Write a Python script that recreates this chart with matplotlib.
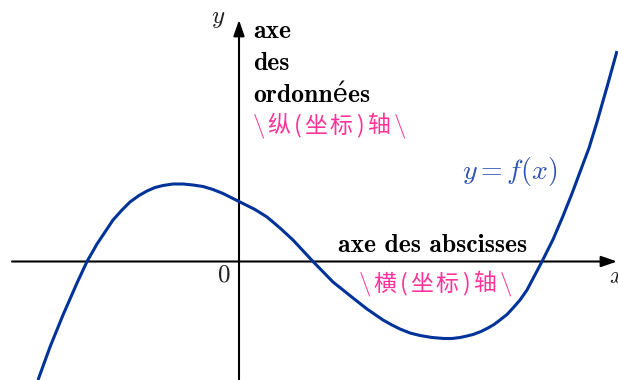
import matplotlib
matplotlib.use("Agg")
import matplotlib.pyplot as plt

plt.rcParams['mathtext.fontset'] = 'cm'

# Curve points (data units)
curve_x = [-4.02, -3.78, -3.52, -3.24, -3.04, -2.84, -2.52, -2.34, -2.18, -2.00,
           -1.84, -1.68, -1.52, -1.32, -1.12, -0.92, -0.72, -0.52, -0.32, 0.00,
           0.32, 0.56, 0.82, 1.08, 1.48, 1.88, 2.28, 2.56, 2.88, 3.06,
           3.22, 3.42, 3.62, 3.86, 4.10, 4.26, 4.42, 4.56, 4.68, 4.84,
           4.98, 5.10, 5.22, 5.36, 5.48, 5.62, 5.76, 6.06, 6.28, 6.48,
           6.66, 6.82, 7.00, 7.16, 7.36, 7.56]
curve_y = [-2.37, -1.71, -1.07, -0.43, 0.00, 0.35, 0.83, 1.03, 1.19, 1.32,
           1.41, 1.48, 1.52, 1.55, 1.55, 1.53, 1.50, 1.44, 1.36, 1.20,
           1.04, 0.89, 0.67, 0.43, 0.00, -0.41, -0.73, -0.95, -1.17, -1.27,
           -1.35, -1.43, -1.48, -1.52, -1.54, -1.54, -1.52, -1.49, -1.46, -1.40,
           -1.33, -1.26, -1.17, -1.06, -0.93, -0.77, -0.57, 0.00, 0.44, 0.91,
           1.36, 1.79, 2.27, 2.79, 3.49, 4.21]

y_axis_lines = ["axe", "des", "ordonnées"]
x_axis_label = "axe des abscisses"
y_axis_cn = ["\\", "纵", "(", "坐", "标", ")", "轴", "\\"]
x_axis_cn = ["\\", "横", "(", "坐", "标", ")", "轴", "\\"]
curve_label = r"$y = f(x)$"
origin_label = r"$0$"

CURVE = '#003399'
LABEL_BLUE = '#2f52b4'
PINK = '#ff3399'

fig = plt.figure(figsize=(6.18, 3.80), dpi=100)
ax = fig.add_axes([0, 0, 1, 1])
ax.axis('off')
ax.set_xlim(-239 / 50, 379 / 50)
ax.set_ylim((261.5 - 380) / 50, 261.5 / 50)


def P(px, py):
    return ((px - 239) / 50, (261.5 - py) / 50)


arrow = dict(arrowstyle='-|>,head_length=0.95,head_width=0.33', lw=1.5,
             color='black', mutation_scale=10, shrinkA=0, shrinkB=0)
ax.annotate('', xy=P(617, 261.5), xytext=P(12, 261.5), arrowprops=arrow)
ax.annotate('', xy=P(239, 20), xytext=P(239, 385), arrowprops=arrow)

ax.plot(curve_x, curve_y, color=CURVE, lw=2.2, solid_capstyle='butt',
        solid_joinstyle='round', zorder=3)

bold = dict(family=['cmb10', 'DejaVu Serif'], fontsize=18.5, color='black')

for i, line in enumerate(y_axis_lines):
    ax.text(*P(253, 38 + 32 * i), line, ha='left', va='baseline', **bold)
ax.text(*P(338, 252), x_axis_label, ha='left', va='baseline', **bold)

# Chinese labels, piece by piece (TeX-like spacing)
offsets = [5.5, 26, 44.5, 63, 88, 106.5, 125, 146]


def cn_label(pieces, left, cy):
    for piece, off in zip(pieces, offsets):
        if piece == "\\":
            ax.text(*P(left + off, cy), r"$\backslash$", ha='center',
                    va='center', fontsize=18, color=PINK)
        else:
            ax.text(*P(left + off, cy), piece, ha='center', va='center',
                    fontsize=16.5, color=PINK,
                    family=['Noto Sans CJK SC', 'DejaVu Sans'])


cn_label(y_axis_cn, 253, 126)
cn_label(x_axis_cn, 359, 284)

ax.text(*P(510, 172), curve_label, ha='center', va='center', fontsize=20,
        color=LABEL_BLUE)
ax.text(*P(224, 274), origin_label, ha='center', va='center', fontsize=18,
        color='#222222')
ax.text(*P(218, 18), r"$y$", ha='center', va='center', fontsize=18,
        color='#222222')
ax.text(*P(609, 276), r"$x$", ha='left', va='center', fontsize=18,
        color='#222222')

fig.savefig('out.png', dpi=100)
